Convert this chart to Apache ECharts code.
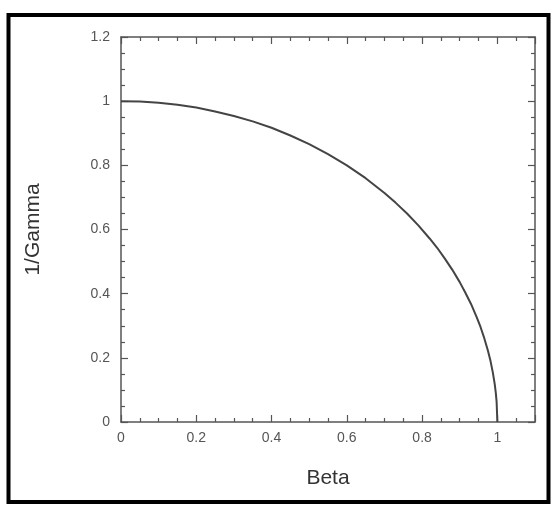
<!DOCTYPE html>
<html>
<head>
<meta charset="utf-8">
<script src="https://cdn.jsdelivr.net/npm/echarts@6/dist/echarts.min.js"></script>
<style>
  html, body { margin: 0; padding: 0; background: #fff; }
  #chart { width: 558px; height: 512px; }
</style>
</head>
<body>
<div id="chart"></div>
<script>
// values
var beta = [0, 0.05, 0.1, 0.15, 0.2, 0.25, 0.3, 0.35, 0.4, 0.45, 0.5, 0.55, 0.6, 0.65, 0.7, 0.73, 0.76, 0.79, 0.82, 0.84, 0.86, 0.88, 0.9, 0.915, 0.93, 0.945, 0.955, 0.965, 0.975, 0.982, 0.988, 0.993, 0.996, 0.998, 1];
var invGamma = [1, 0.999, 0.995, 0.989, 0.98, 0.968, 0.954, 0.937, 0.917, 0.893, 0.866, 0.835, 0.8, 0.76, 0.714, 0.683, 0.65, 0.613, 0.572, 0.543, 0.51, 0.475, 0.436, 0.403, 0.368, 0.327, 0.297, 0.262, 0.222, 0.189, 0.154, 0.118, 0.089, 0.063, 0];
var xTicks = ['0', '0.2', '0.4', '0.6', '0.8', '1'];
var yTicks = ['0', '0.2', '0.4', '0.6', '0.8', '1', '1.2'];

var points = beta.map(function (b, i) { return [b, invGamma[i]]; });

var font = '"Liberation Sans", Arial, Helvetica, sans-serif';
var axisCol = '#555';

function xAxisCfg(pos, showLabels) {
  return {
    type: 'value', position: pos, min: 0, max: 1.1, interval: 0.2,
    name: showLabels ? 'Beta' : '', nameLocation: 'middle', nameGap: 46,
    nameTextStyle: { fontFamily: font, fontSize: 21, color: '#333' },
    axisLine: { show: true, onZero: false, lineStyle: { color: axisCol, width: 1.5 } },
    axisTick: { show: true, inside: true, length: 7, lineStyle: { color: axisCol, width: 1.2 } },
    minorTick: { show: true, splitNumber: 4, length: 4, lineStyle: { color: axisCol, width: 1.2 } },
    splitLine: { show: false },
    axisLabel: {
      show: showLabels, margin: 9, fontFamily: font, fontSize: 14, color: '#555',
      formatter: function (v) {
        var s = String(Math.round(v * 10) / 10);
        return xTicks.indexOf(s) >= 0 ? s : '';
      }
    }
  };
}

function yAxisCfg(pos, showLabels) {
  return {
    type: 'value', position: pos, min: 0, max: 1.2, interval: 0.2,
    name: showLabels ? '1/Gamma' : '', nameLocation: 'middle', nameGap: 77, nameRotate: 90,
    nameTextStyle: { fontFamily: font, fontSize: 21, color: '#333' },
    axisLine: { show: true, onZero: false, lineStyle: { color: axisCol, width: 1.5 } },
    axisTick: { show: true, inside: true, length: 7, lineStyle: { color: axisCol, width: 1.2 } },
    minorTick: { show: true, splitNumber: 4, length: 4, lineStyle: { color: axisCol, width: 1.2 } },
    splitLine: { show: false },
    axisLabel: {
      show: showLabels, margin: 11, fontFamily: font, fontSize: 14, color: '#555',
      formatter: function (v) {
        var s = String(Math.round(v * 10) / 10);
        return yTicks.indexOf(s) >= 0 ? s : '';
      }
    }
  };
}

var chart = echarts.init(document.getElementById('chart'));
chart.setOption({
  backgroundColor: '#fff',
  animation: false,
  grid: { left: 121, top: 37, width: 414, height: 385 },
  xAxis: [xAxisCfg('bottom', true), xAxisCfg('top', false)],
  yAxis: [yAxisCfg('left', true), yAxisCfg('right', false)],
  graphic: [{
    type: 'rect',
    shape: { x: 8.5, y: 15, width: 540, height: 487 },
    style: { fill: 'none', stroke: '#000', lineWidth: 4 }
  }],
  series: [{
    type: 'line',
    xAxisIndex: 0, yAxisIndex: 0,
    data: points,
    showSymbol: false,
    smooth: false,
    lineStyle: { color: '#444', width: 2 }
  }]
});
</script>
</body>
</html>
